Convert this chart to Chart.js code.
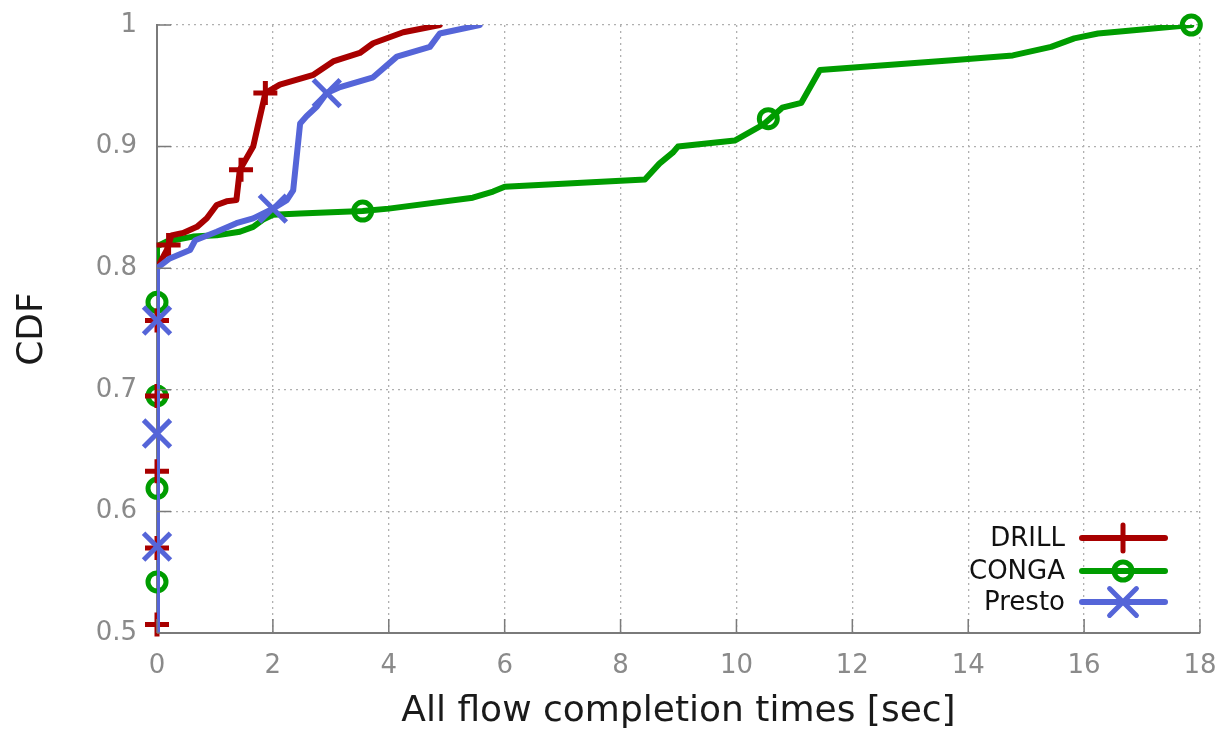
<!DOCTYPE html>
<html><head><meta charset="utf-8">
<script src="https://cdn.jsdelivr.net/npm/chart.js@4.4.0/dist/chart.umd.min.js"></script>
<style>html,body{margin:0;padding:0;background:#fff;}canvas{display:block;}</style>
</head><body>
<canvas id="c" width="1225" height="734"></canvas>
<script>
// ---- data ----
const xTicks = [0, 2, 4, 6, 8, 10, 12, 14, 16, 18];
const yTicks = [0.5, 0.6, 0.7, 0.8, 0.9, 1.0];
const xTitle = 'All flow completion times [sec]';
const yTitle = 'CDF';

const drillX = [0, 0, 0.08, 0.17, 0.25, 0.45, 0.69, 0.86, 1.03, 1.2, 1.37, 1.43, 1.66, 1.75, 1.87, 2.12, 2.7, 3.04, 3.5, 3.73, 4.25, 4.88];
const drillY = [0.5, 0.8, 0.807, 0.815, 0.827, 0.829, 0.834, 0.841, 0.852, 0.855, 0.856, 0.881, 0.900, 0.919, 0.944, 0.951, 0.959, 0.970, 0.977, 0.985, 0.994, 1.0];
const drillMarkX = [0, 0, 0, 0, 0, 0.2, 1.45, 1.87];
const drillMarkY = [0.507, 0.570, 0.633, 0.695, 0.757, 0.819, 0.881, 0.944];

const congaX = [0, 0, 0.17, 0.62, 1.03, 1.43, 1.66, 1.83, 2.0, 2.47, 3.55, 4.0, 5.45, 5.8, 6.0, 8.42, 8.67, 8.9, 8.99, 9.97, 10.46, 10.79, 11.12, 11.44, 13.72, 14.77, 15.43, 15.83, 16.24, 17.85];
const congaY = [0.5, 0.818, 0.822, 0.826, 0.827, 0.830, 0.834, 0.840, 0.844, 0.845, 0.847, 0.849, 0.858, 0.863, 0.867, 0.873, 0.886, 0.895, 0.900, 0.905, 0.918, 0.932, 0.936, 0.963, 0.971, 0.975, 0.982, 0.989, 0.993, 1.0];
const congaMarkX = [0, 0, 0, 0, 3.55, 10.55, 17.85];
const congaMarkY = [0.542, 0.619, 0.695, 0.772, 0.847, 0.923, 1.0];

const prestoX = [0, 0, 0.22, 0.57, 0.66, 1.03, 1.37, 1.66, 2.0, 2.24, 2.35, 2.47, 2.58, 2.76, 2.93, 3.16, 3.73, 4.14, 4.71, 4.88, 5.57];
const prestoY = [0.5, 0.80, 0.808, 0.815, 0.823, 0.830, 0.837, 0.841, 0.849, 0.856, 0.864, 0.919, 0.925, 0.933, 0.944, 0.949, 0.957, 0.974, 0.982, 0.993, 1.0];
const prestoMarkX = [0, 0, 0, 2.0, 2.93];
const prestoMarkY = [0.571, 0.664, 0.757, 0.849, 0.944];

// ---- styling ----
const RED = '#a80000', GREEN = '#009c00', BLUE = '#5565d8';
const FONT = 'DejaVu Sans';
Chart.defaults.font.family = FONT;

function pts(xs, ys) { return xs.map((x, i) => ({x: x, y: ys[i]})); }

function lineDs(label, xs, ys, color, order) {
  return {label, data: pts(xs, ys), borderColor: color, backgroundColor: color, borderWidth: 6,
    pointRadius: 0, showLine: true, tension: 0, order, borderJoinStyle: 'round', borderCapStyle: 'round'};
}
function markDs(label, xs, ys, color, style, radius, order) {
  return {label, data: pts(xs, ys), borderColor: color, backgroundColor: 'rgba(0,0,0,0)', borderWidth: 5,
    pointStyle: style, pointRadius: radius, showLine: false, order, clip: false, isMarker: true};
}

const datasets = [
  lineDs('DRILL', drillX, drillY, RED, 3),
  markDs('DRILL markers', drillMarkX, drillMarkY, RED, 'cross', 12, 2),
  lineDs('CONGA', congaX, congaY, GREEN, 5),
  markDs('CONGA markers', congaMarkX, congaMarkY, GREEN, 'circle', 9, 4),
  lineDs('Presto', prestoX, prestoY, BLUE, 1),
  markDs('Presto markers', prestoMarkX, prestoMarkY, BLUE, 'crossRot', 19, 0),
];
const markerStyle = {DRILL: ['cross', 13], CONGA: ['circle', 9], Presto: ['crossRot', 19]};

const innerTicks = {
  id: 'innerTicks',
  afterDatasetsDraw(chart) {
    const {ctx, chartArea: a, scales: {x, y}} = chart;
    ctx.save();
    ctx.strokeStyle = '#7a7a7a';
    ctx.lineWidth = 1.5;
    ctx.beginPath();
    xTicks.forEach(v => { const p = x.getPixelForValue(v); ctx.moveTo(p, a.bottom); ctx.lineTo(p, a.bottom - 14); });
    yTicks.forEach(v => { const p = y.getPixelForValue(v); ctx.moveTo(a.left, p); ctx.lineTo(a.left + 14, p); });
    ctx.stroke();
    ctx.restore();
  }
};

function drawMarker(ctx, style, r, cx, cy) {
  ctx.beginPath();
  if (style === 'circle') {
    ctx.arc(cx, cy, r, 0, Math.PI * 2);
  } else if (style === 'cross') {
    ctx.moveTo(cx - r, cy); ctx.lineTo(cx + r, cy);
    ctx.moveTo(cx, cy - r); ctx.lineTo(cx, cy + r);
  } else {
    const d = r * Math.SQRT1_2;
    ctx.moveTo(cx - d, cy - d); ctx.lineTo(cx + d, cy + d);
    ctx.moveTo(cx - d, cy + d); ctx.lineTo(cx + d, cy - d);
  }
  ctx.stroke();
}

const keyLegend = {
  id: 'keyLegend',
  afterDraw(chart) {
    const {ctx, chartArea: a} = chart;
    const lines = chart.data.datasets.filter(d => !d.isMarker);
    const rowsY = [a.bottom - 95, a.bottom - 62, a.bottom - 31];
    ctx.save();
    ctx.font = '26px ' + FONT;
    ctx.textAlign = 'right';
    ctx.textBaseline = 'middle';
    lines.forEach((d, i) => {
      const yy = rowsY[i];
      ctx.fillStyle = '#111';
      ctx.fillText(d.label, a.right - 135, yy + 1);
      ctx.strokeStyle = d.borderColor;
      ctx.lineWidth = 6;
      ctx.lineCap = 'round';
      ctx.beginPath(); ctx.moveTo(a.right - 118, yy); ctx.lineTo(a.right - 35, yy); ctx.stroke();
      ctx.lineWidth = 5;
      const [st, r] = markerStyle[d.label];
      drawMarker(ctx, st, r, a.right - 77, yy);
    });
    ctx.restore();
  }
};

new Chart(document.getElementById('c'), {
  type: 'scatter',
  data: {datasets},
  options: {
    responsive: false,
    devicePixelRatio: 1,
    animation: false,
    layout: {padding: {top: 25, right: 25, left: 0, bottom: 0}},
    plugins: {legend: {display: false}, tooltip: {enabled: false}},
    scales: {
      x: {
        type: 'linear', min: 0, max: 18,
        afterBuildTicks: s => { s.ticks = xTicks.map(v => ({value: v})); },
        afterFit: s => { s.height = 101; s.paddingLeft = 0; s.paddingRight = 0; },
        ticks: {font: {size: 26}, color: '#8a8a8a', padding: 18, callback: v => String(v)},
        grid: {color: '#b0b0b0', lineWidth: 1.3, drawTicks: false},
        border: {display: true, color: '#7a7a7a', width: 2, dash: [2, 4]},
        title: {display: true, text: xTitle, font: {size: 36}, color: '#1a1a1a', padding: {top: 0, bottom: 1}}
      },
      y: {
        type: 'linear', min: 0.5, max: 1.0,
        afterBuildTicks: s => { s.ticks = yTicks.map(v => ({value: v})); },
        afterFit: s => { s.width = 157; s.paddingTop = 0; s.paddingBottom = 0; },
        ticks: {font: {size: 26}, color: '#8a8a8a', padding: 20, callback: v => (v === 1 ? '1' : v.toFixed(1))},
        grid: {color: '#b0b0b0', lineWidth: 1.3, drawTicks: false},
        border: {display: true, color: '#7a7a7a', width: 2, dash: [2, 4]},
        title: {display: true, text: yTitle, font: {size: 36}, color: '#1a1a1a', padding: {top: 11, bottom: 0}}
      }
    }
  },
  plugins: [innerTicks, keyLegend]
});
</script>
</body></html>
